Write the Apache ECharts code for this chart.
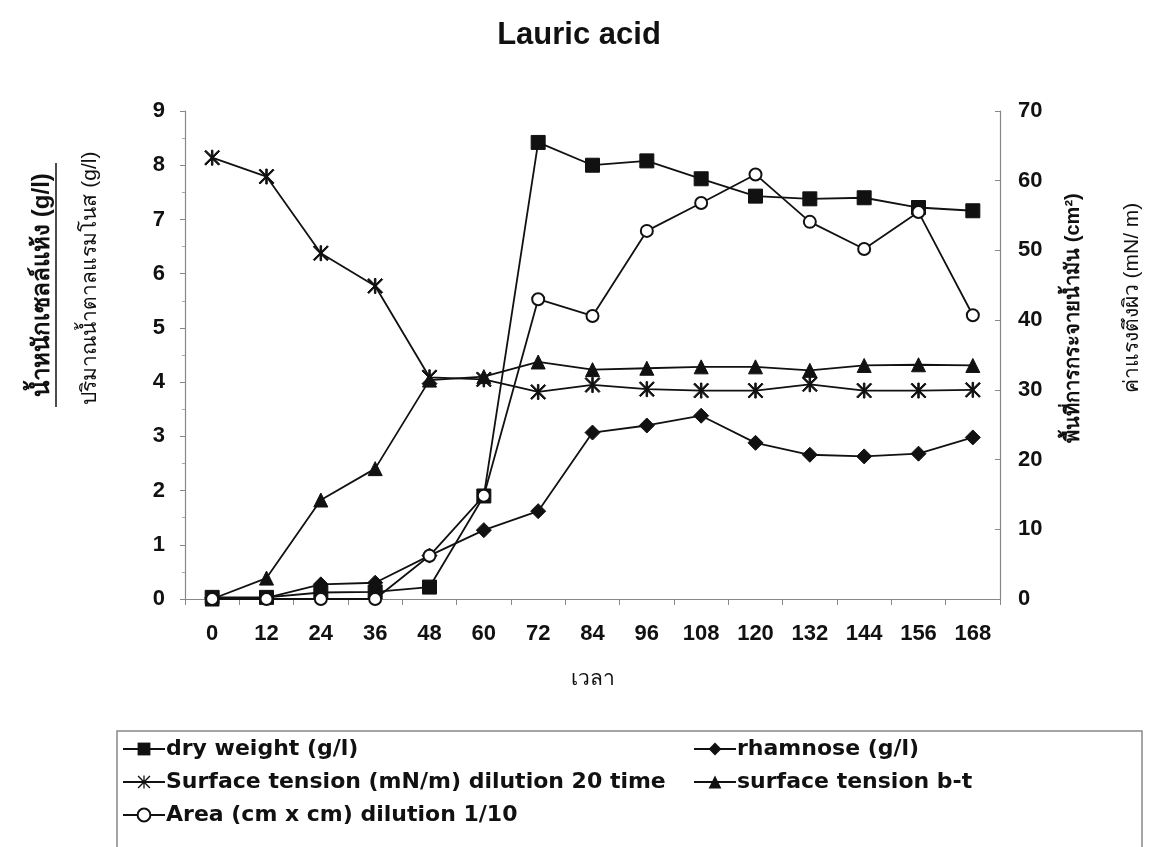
<!DOCTYPE html>
<html>
<head>
<meta charset="utf-8">
<script src="https://cdn.jsdelivr.net/npm/echarts@6/dist/echarts.min.js"></script>
<style>
html,body{margin:0;padding:0;background:#fff;}
#chart{width:1158px;height:847px;}
</style>
</head>
<body>
<div id="chart"></div>
<script>
// ---- data ----
var timeLabels = ['0','12','24','36','48','60','72','84','96','108','120','132','144','156','168'];
var dryWeight = [0.03,0.03,0.12,0.13,0.22,1.9,8.42,8.0,8.08,7.75,7.43,7.38,7.4,7.22,7.16];
var rhamnose = [0.02,0.02,0.27,0.3,0.8,1.27,1.62,3.07,3.2,3.38,2.88,2.66,2.63,2.68,2.98];
var stDilution20 = [63.3,60.6,49.6,44.9,31.8,31.5,29.7,30.7,30.1,29.9,29.9,30.8,29.9,29.9,30.0];
var stBT = [0,3.0,14.2,18.7,31.4,31.9,34.0,32.9,33.1,33.3,33.3,32.8,33.5,33.6,33.5];
var areaDil = [0,0,0,0,6.2,14.8,43.0,40.6,52.8,56.8,60.9,54.1,50.2,55.5,40.7];
var leftTicks = {min:0, max:9, interval:1};
var rightTicks = {min:0, max:70, interval:10};
var names = {
  dry: 'dry weight (g/l)',
  rha: 'rhamnose (g/l)',
  st20: 'Surface tension (mN/m) dilution 20 time',
  stbt: 'surface tension b-t',
  area: 'Area (cm x cm) dilution 1/10'
};

var ink = '#111';
var font = 'Liberation Sans, Arial, Noto Sans, sans-serif';
var legendFont = 'DejaVu Sans, Liberation Sans, sans-serif';
var asterisk = 'path://M9,0 L11,0 L11,20 L9,20 Z M0,1.5 L1.5,0 L20,18.5 L18.5,20 Z M18.5,0 L20,1.5 L1.5,20 L0,18.5 Z';

function mkSeries(name, data, yIdx, symbol, size, extra) {
  var s = {
    name: name, type: 'line', data: data, yAxisIndex: yIdx,
    symbol: symbol, symbolSize: size, showAllSymbol: true,
    lineStyle: {color: ink, width: 1.8},
    itemStyle: {color: ink, borderColor: ink},
    emphasis: {disabled: true}, animation: false
  };
  if (extra) for (var k in extra) s[k] = extra[k];
  return s;
}

var chart = echarts.init(document.getElementById('chart'), null, {renderer: 'canvas'});
var legendText = {fontFamily: legendFont, fontSize: 22, fontWeight: 'bold', color: ink, padding: [0,0,0,-4]};
var option = {
  backgroundColor: '#fff',
  animation: false,
  title: {
    text: 'Lauric acid', left: 'center', top: 15,
    textStyle: {fontFamily: font, fontSize: 31, fontWeight: 'bold', color: ink}
  },
  grid: {left: 185, right: 158, top: 111, bottom: 248},
  xAxis: {
    type: 'category', data: timeLabels, boundaryGap: true,
    name: 'เวลา', nameLocation: 'middle', nameGap: 70,
    nameTextStyle: {fontFamily: font, fontSize: 21, color: ink},
    axisLine: {lineStyle: {color: '#888', width: 1.2}},
    axisTick: {show: true, length: 6, lineStyle: {color: '#888'}},
    axisLabel: {fontFamily: font, fontSize: 22, fontWeight: 'bold', color: ink, margin: 24}
  },
  yAxis: [
    {
      type: 'value', min: leftTicks.min, max: leftTicks.max, interval: leftTicks.interval,
      axisLine: {show: true, lineStyle: {color: '#888', width: 1.2}},
      axisTick: {show: true, length: 5, lineStyle: {color: '#888'}},
      minorTick: {show: true, splitNumber: 2, length: 3, lineStyle: {color: '#aaa'}},
      splitLine: {show: false},
      axisLabel: {fontFamily: font, fontSize: 22, fontWeight: 'bold', color: ink, margin: 20}
    },
    {
      type: 'value', position: 'right', min: rightTicks.min, max: rightTicks.max, interval: rightTicks.interval,
      axisLine: {show: true, lineStyle: {color: '#888', width: 1.2}},
      axisTick: {show: true, inside: true, length: 5, lineStyle: {color: '#888'}},
      splitLine: {show: false},
      axisLabel: {fontFamily: font, fontSize: 22, fontWeight: 'bold', color: ink, margin: 18}
    }
  ],
  legend: [
    {
      orient: 'vertical', left: 117, top: 733, itemGap: 11,
      itemWidth: 42, itemHeight: 16,
      data: [names.dry, names.st20, names.area],
      textStyle: legendText,
      selectedMode: false
    },
    {
      orient: 'vertical', left: 688, top: 733, itemGap: 11,
      itemWidth: 42, itemHeight: 16,
      data: [names.rha, names.stbt],
      textStyle: legendText,
      selectedMode: false
    }
  ],
  series: [
    mkSeries(names.dry, dryWeight, 0, 'rect', 14),
    mkSeries(names.rha, rhamnose, 0, 'diamond', 15),
    mkSeries(names.st20, stDilution20, 1, asterisk, 15),
    mkSeries(names.stbt, stBT, 1, 'triangle', 14),
    mkSeries(names.area, areaDil, 1, 'emptyCircle', 12, {itemStyle: {color: ink, borderColor: ink, borderWidth: 1.6}})
  ],
  graphic: [
    {type: 'text', x: 42, y: 285, rotation: Math.PI / 2,
      style: {text: 'น้ำหนักเซลล์แห้ง (g/l)', fill: ink, font: 'bold 24px ' + font, align: 'center', verticalAlign: 'middle'}},
    {type: 'line', shape: {x1: 56, y1: 163, x2: 56, y2: 407}, style: {stroke: ink, lineWidth: 1.5}},
    {type: 'text', x: 90, y: 278, rotation: Math.PI / 2,
      style: {text: 'ปริมาณน้ำตาลแรมโนส (g/l)', fill: ink, font: '21px ' + font, align: 'center', verticalAlign: 'middle'}},
    {type: 'text', x: 1073, y: 318, rotation: Math.PI / 2,
      style: {text: 'พื้นที่การกระจายน้ำมัน (cm²)', fill: ink, font: 'bold 20px ' + font, align: 'center', verticalAlign: 'middle'}},
    {type: 'text', x: 1132, y: 298, rotation: Math.PI / 2,
      style: {text: 'ค่าแรงตึงผิว (mN/ m)', fill: ink, font: '21px ' + font, align: 'center', verticalAlign: 'middle'}},
    {type: 'rect', shape: {x: 117, y: 731, width: 1025, height: 125},
      style: {fill: 'none', stroke: '#888', lineWidth: 1.5}, z: -1}
  ]
};
chart.setOption(option);
</script>
</body>
</html>
